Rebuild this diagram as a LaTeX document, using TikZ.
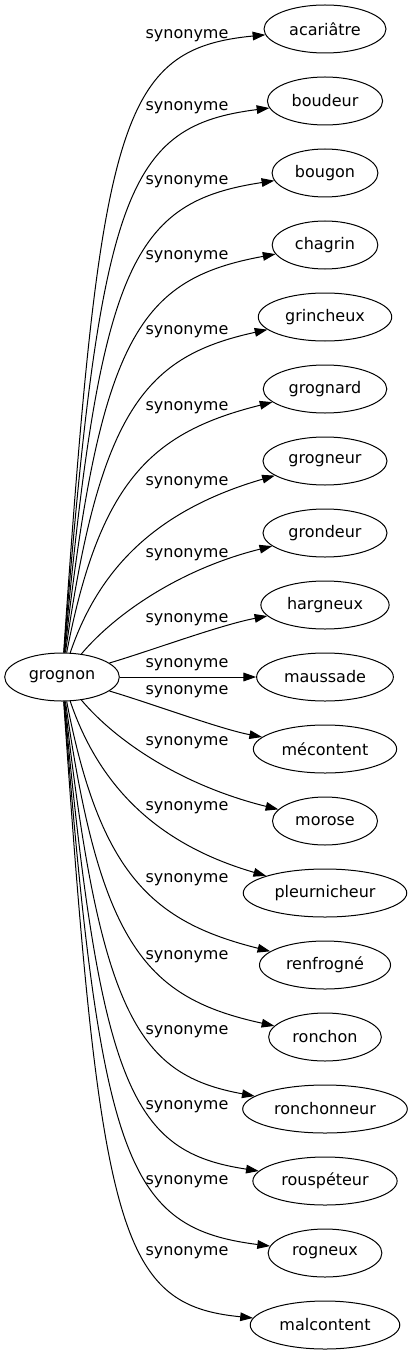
\documentclass[tikz,border=0pt]{standalone}
\usepackage{fontspec}
\setmainfont{DejaVu Sans}
\usepackage{tikz}
\usetikzlibrary{shapes.geometric,arrows.meta}
\newcommand{\edgecolor}{black}
\newcommand{\edgewidth}{0.75pt}
\tikzset{
  word/.style={draw, ellipse, line width=\edgewidth, font=\fontsize{12pt}{14pt}\selectfont, inner xsep=5.5pt, inner ysep=1pt, minimum height=36pt},
  lbl/.style={font=\fontsize{12pt}{14pt}\selectfont, inner sep=0pt},
  syn/.style={draw=\edgecolor, line width=\edgewidth, -{Triangle[length=9.5pt,width=6.5pt]}}
}

\begin{document}
\begin{tikzpicture}[x=0.75pt,y=-0.75pt]
\useasboundingbox (0,0) rectangle (410,1355);
\node[word] (0) at (62, 677) {grognon};
\node[word] (1) at (325, 29) {acariâtre};
\node[word] (2) at (325, 101) {boudeur};
\node[word] (3) at (325, 173) {bougon};
\node[word] (4) at (325, 245) {chagrin};
\node[word] (5) at (325, 317) {grincheux};
\node[word] (6) at (325, 389) {grognard};
\node[word] (7) at (325, 461) {grogneur};
\node[word] (8) at (325, 533) {grondeur};
\node[word] (9) at (325, 605) {hargneux};
\node[word] (10) at (325, 677) {maussade};
\node[word] (11) at (325, 749) {mécontent};
\node[word] (12) at (325, 821) {morose};
\node[word] (13) at (325, 893) {pleurnicheur};
\node[word] (14) at (325, 965) {renfrogné};
\node[word] (15) at (325, 1037) {ronchon};
\node[word] (16) at (325, 1109) {ronchonneur};
\node[word] (17) at (325, 1181) {rouspéteur};
\node[word] (18) at (325, 1253) {rogneux};
\node[word] (19) at (325, 1325) {malcontent};
%haut
\draw[syn] (0) .. controls (100, 120) and (120, 49) .. (1);
\draw[syn] (0) .. controls (100, 191) and (127, 126) .. (2);
\draw[syn] (0) .. controls (100, 263) and (133, 202) .. (3);
\draw[syn] (0) .. controls (100, 335) and (140, 279) .. (4);
\draw[syn] (0) .. controls (100, 407) and (147, 356) .. (5);
\draw[syn] (0) .. controls (100, 479) and (153, 432) .. (6);
\draw[syn] (0) .. controls (100, 565) and (160, 509) .. (7);
\draw[syn] (0) .. controls (115, 614) and (180, 569) .. (8);
\draw[syn] (0) .. controls (150, 651) and (220, 625) .. (9);
\draw[syn] (0) -- (10);
%bas
\draw[syn] (0) .. controls (150, 703) and (220, 729) .. (11);
\draw[syn] (0) .. controls (115, 740) and (180, 785) .. (12);
\draw[syn] (0) .. controls (100, 789) and (160, 845) .. (13);
\draw[syn] (0) .. controls (100, 875) and (153, 922) .. (14);
\draw[syn] (0) .. controls (100, 947) and (147, 998) .. (15);
\draw[syn] (0) .. controls (100, 1019) and (140, 1075) .. (16);
\draw[syn] (0) .. controls (100, 1091) and (133, 1152) .. (17);
\draw[syn] (0) .. controls (100, 1163) and (127, 1228) .. (18);
\draw[syn] (0) .. controls (100, 1234) and (120, 1305) .. (19);
%labels
\node[lbl] (l1) at (187, 36) {synonyme};
\node[lbl] (l2) at (187, 108) {synonyme};
\node[lbl] (l3) at (187, 182) {synonyme};
\node[lbl] (l4) at (187, 257) {synonyme};
\node[lbl] (l5) at (187, 332) {synonyme};
\node[lbl] (l6) at (187, 408) {synonyme};
\node[lbl] (l7) at (187, 483) {synonyme};
\node[lbl] (l8) at (187, 555) {synonyme};
\node[lbl] (l9) at (187, 620) {synonyme};
\node[lbl] (l10) at (187, 665) {synonyme};
\node[lbl] (l11) at (187, 692) {synonyme};
\node[lbl] (l12) at (187, 743) {synonyme};
\node[lbl] (l13) at (187, 808) {synonyme};
\node[lbl] (l14) at (187, 880) {synonyme};
\node[lbl] (l15) at (187, 957) {synonyme};
\node[lbl] (l16) at (187, 1032) {synonyme};
\node[lbl] (l17) at (187, 1107) {synonyme};
\node[lbl] (l18) at (187, 1182) {synonyme};
\node[lbl] (l19) at (187, 1253) {synonyme};
\end{tikzpicture}
\end{document}
